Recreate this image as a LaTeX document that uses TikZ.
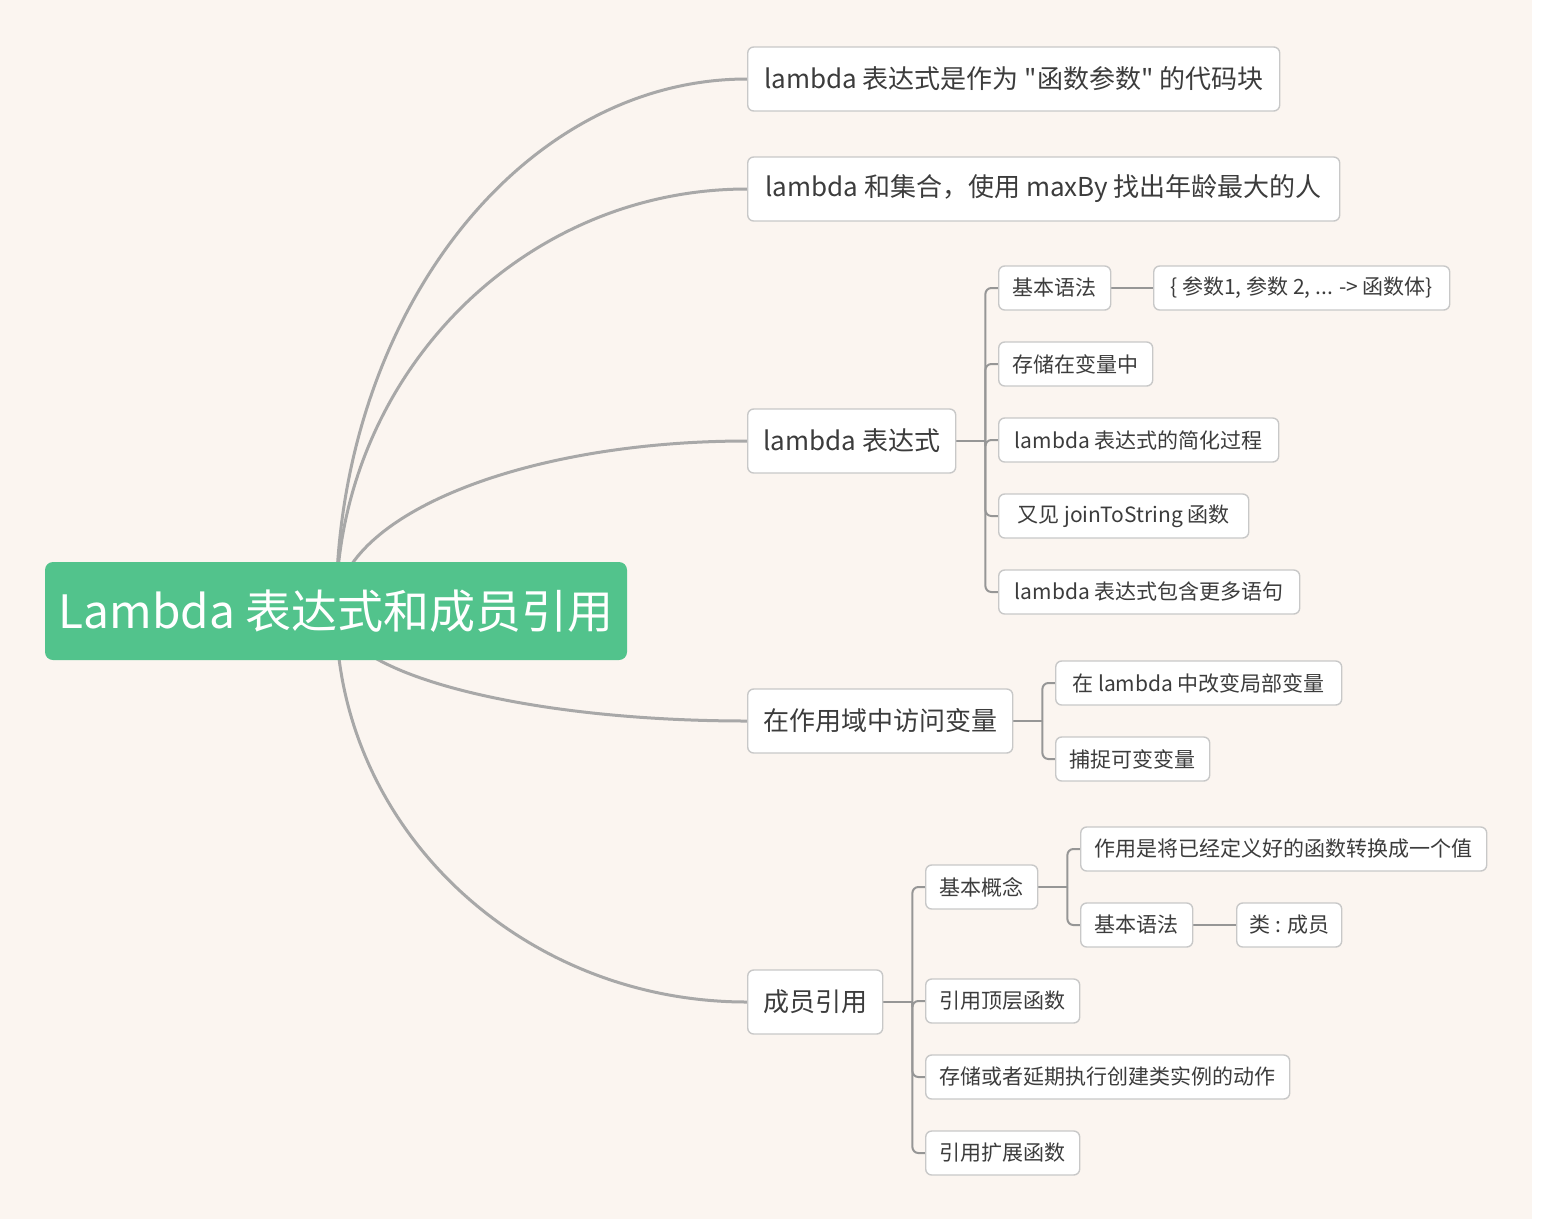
\documentclass[tikz,border=0pt]{standalone}
\usepackage{fontspec}
\setmainfont{Noto Sans CJK SC}
\newfontfamily\nf{Noto Sans CJK SC}
\definecolor{bgc}{RGB}{251,245,240}
\definecolor{rootg}{RGB}{82,195,140}
\definecolor{curvec}{RGB}{168,168,168}
\definecolor{brc}{RGB}{150,150,150}
\definecolor{bordc}{RGB}{200,200,200}
\definecolor{txt}{RGB}{60,60,60}
\pgfdeclarelayer{back}
\pgfdeclarelayer{mid}
\pgfsetlayers{back,mid,main}
\tikzset{
 box/.style={draw=bordc, line width=0.7pt, fill=white, rounded corners=3pt, anchor=west, inner sep=0pt, text=txt},
 lone/.style={box, minimum height=32pt, font=\nf\fontsize{13}{15}\selectfont},
 ltwo/.style={box, minimum height=22pt, font=\nf\fontsize{10.5}{12}\selectfont},
 curve/.style={draw=curvec, line width=1.5pt},
 br/.style={draw=brc, line width=1pt, rounded corners=3pt},
}
\begin{document}
\begin{tikzpicture}[x=0.5pt,y=-0.5pt]
\begin{pgfonlayer}{back}
\fill[white] (0,0) rectangle (1541,1227);
\fill[bgc] (0,0) rectangle (1532,1219);
\end{pgfonlayer}
\useasboundingbox (0,0) rectangle (1541,1227);

\node[fill=rootg, rounded corners=4pt, minimum width=291pt, minimum height=49pt, inner sep=0pt, text=white, font=\nf\fontsize{23}{28}\selectfont] (root) at (336,611) {Lambda 表达式和成员引用};

% level 1
\node[lone, minimum width=266pt] (n1) at (747,79) {lambda 表达式是作为 "函数参数" 的代码块};
\node[lone, minimum width=296pt] (n2) at (747,189) {lambda 和集合，使用 maxBy 找出年龄最大的人};
\node[lone, minimum width=104pt] (n3) at (747,441) {lambda 表达式};
\node[lone, minimum width=132.5pt] (n4) at (747,721) {在作用域中访问变量};
\node[lone, minimum width=67.5pt] (n5) at (747,1002) {成员引用};

% lambda children
\node[ltwo, minimum width=56pt] (a1) at (998,288) {基本语法};
\node[ltwo, minimum width=148pt] (a1b) at (1153,288) {\{ 参数1, 参数 2, ... -> 函数体\}};
\node[ltwo, minimum width=77pt] (a2) at (998,364) {存储在变量中};
\node[ltwo, minimum width=140pt] (a3) at (998,440) {lambda 表达式的简化过程};
\node[ltwo, minimum width=125pt] (a4) at (998,516) {又见 joinToString 函数};
\node[ltwo, minimum width=150.5pt] (a5) at (998,592) {lambda 表达式包含更多语句};

% scope children
\node[ltwo, minimum width=143pt] (b1) at (1055,683) {在 lambda 中改变局部变量};
\node[ltwo, minimum width=77pt] (b2) at (1055,759) {捕捉可变变量};

% member reference children
\node[ltwo, minimum width=56pt] (c1) at (925,887) {基本概念};
\node[ltwo, minimum width=203pt] (c1a) at (1080,849) {作用是将已经定义好的函数转换成一个值};
\node[ltwo, minimum width=56pt] (c1b) at (1080,925) {基本语法};
\node[ltwo, minimum width=52.5pt] (c1b1) at (1236,925) {类 : 成员};
\node[ltwo, minimum width=77pt] (c2) at (925,1001) {引用顶层函数};
\node[ltwo, minimum width=182pt] (c3) at (925,1077) {存储或者延期执行创建类实例的动作};
\node[ltwo, minimum width=77pt] (c4) at (925,1153) {引用扩展函数};

\begin{pgfonlayer}{mid}
\draw[curve] (root.center) .. controls +(0,-294) and +(-227,0) .. (n1.west);
\draw[curve] (root.center) .. controls +(0,-233) and +(-227,0) .. (n2.west);
\draw[curve] (root.center) .. controls +(0,-94) and +(-227,0) .. (n3.west);
\draw[curve] (root.center) .. controls +(0,61) and +(-227,0) .. (n4.west);
\draw[curve] (root.center) .. controls +(0,216) and +(-227,0) .. (n5.west);

\draw[br] (n3.east) -- ++(29,0) coordinate (j3);
\foreach \c in {a1,a2,a3,a4,a5} \draw[br] (j3) |- (\c.west);
\draw[br] (a1.east) -- (a1b.west);

\draw[br] (n4.east) -- ++(29,0) coordinate (j4);
\foreach \c in {b1,b2} \draw[br] (j4) |- (\c.west);

\draw[br] (n5.east) -- ++(29,0) coordinate (j5);
\foreach \c in {c1,c2,c3,c4} \draw[br] (j5) |- (\c.west);

\draw[br] (c1.east) -- ++(29,0) coordinate (jc);
\foreach \c in {c1a,c1b} \draw[br] (jc) |- (\c.west);
\draw[br] (c1b.east) -- (c1b1.west);
\end{pgfonlayer}
\end{tikzpicture}
\end{document}
